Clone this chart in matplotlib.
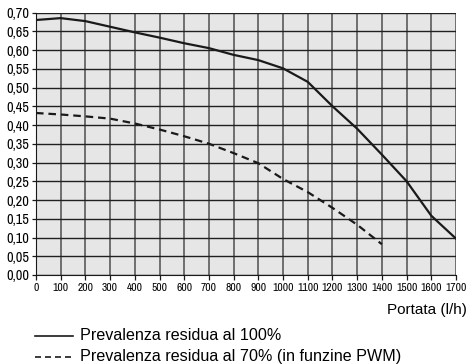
import matplotlib
matplotlib.use("Agg")
import matplotlib.pyplot as plt
from matplotlib.lines import Line2D
from matplotlib.font_manager import fontManager

names = {f.name for f in fontManager.ttflist}
narrow = next((n for n in ["Liberation Sans Narrow", "Arial Narrow", "Archivo Narrow",
                           "Roboto Condensed", "PT Sans Narrow", "Liberation Sans"] if n in names),
              "DejaVu Sans")

flow = [0, 100, 200, 300, 400, 500, 600, 700, 800, 900, 1000, 1100, 1200, 1300, 1400, 1500, 1600, 1700]
head_100 = [0.680, 0.685, 0.677, 0.662, 0.647, 0.633, 0.618, 0.605, 0.587, 0.573, 0.551, 0.515, 0.450, 0.390, 0.321, 0.250, 0.158, 0.097]
flow_70 = [0, 100, 200, 300, 400, 500, 600, 700, 800, 900, 1000, 1100, 1200, 1300, 1400]
head_70 = [0.432, 0.428, 0.423, 0.417, 0.404, 0.388, 0.370, 0.350, 0.325, 0.298, 0.256, 0.221, 0.179, 0.134, 0.082]
xticks = list(range(0, 1701, 100))
yticks = [i * 0.05 for i in range(15)]
ytick_labels = ["0,00", "0,05", "0,10", "0,15", "0,20", "0,25", "0,30", "0,35",
                "0,40", "0,45", "0,50", "0,55", "0,60", "0,65", "0,70"]
label_100 = "Prevalenza residua al 100%"
label_70 = "Prevalenza residua al 70% (in funzine PWM)"
xlabel = "Portata (l/h)"

W, H = 468, 364
fig = plt.figure(figsize=(W / 100, H / 100), dpi=100)
ax = fig.add_axes([36 / W, 1 - 275 / H, 420 / W, (275 - 12.5) / H])
ax.set_facecolor("#e6e6e6")

for x in xticks:
    ax.axvline(x, color="#5a5a5a", lw=1.2, zorder=1)
for y in yticks:
    ax.axhline(y, color="#202020", lw=1.0, zorder=1)

ax.plot(flow, head_100, color="#1a1a1a", lw=1.6, zorder=3)
ax.plot(flow_70, head_70, color="#1a1a1a", lw=1.6, ls=(0, (3.4, 2.2)), zorder=3)

ax.set_xlim(0, 1700)
ax.set_ylim(0, 0.70)
ax.set_xticks(xticks)
ax.set_xticklabels([str(v) for v in xticks], fontfamily=narrow, fontsize=8.3)
ax.set_yticks(yticks)
ax.set_yticklabels(ytick_labels, fontfamily=narrow, fontsize=10.3)
ax.tick_params(axis="x", length=3.5, width=0.9, color="#1a1a1a", pad=2.5)
ax.tick_params(axis="y", length=3, width=0.9, color="#1a1a1a", pad=2)
for s in ax.spines.values():
    s.set_visible(False)
for side in ("bottom", "left"):
    ax.spines[side].set_visible(True)
    ax.spines[side].set_color("#1a1a1a")

fig.text(467 / W, 1 - 310 / H, xlabel, ha="right", va="center",
         fontfamily="Liberation Sans", fontsize=11)

for yy, lab, style in [(336, label_100, "-"), (357, label_70, (0, (3.6, 2.4)))]:
    fig.add_artist(Line2D([35 / W, 73 / W], [1 - yy / H, 1 - yy / H],
                          transform=fig.transFigure, color="#1a1a1a", lw=1.2, ls=style))
    fig.text(79.5 / W, 1 - yy / H, lab, ha="left", va="center",
             fontfamily="Liberation Sans", fontsize=11.6)

fig.savefig("out.png", dpi=100)
